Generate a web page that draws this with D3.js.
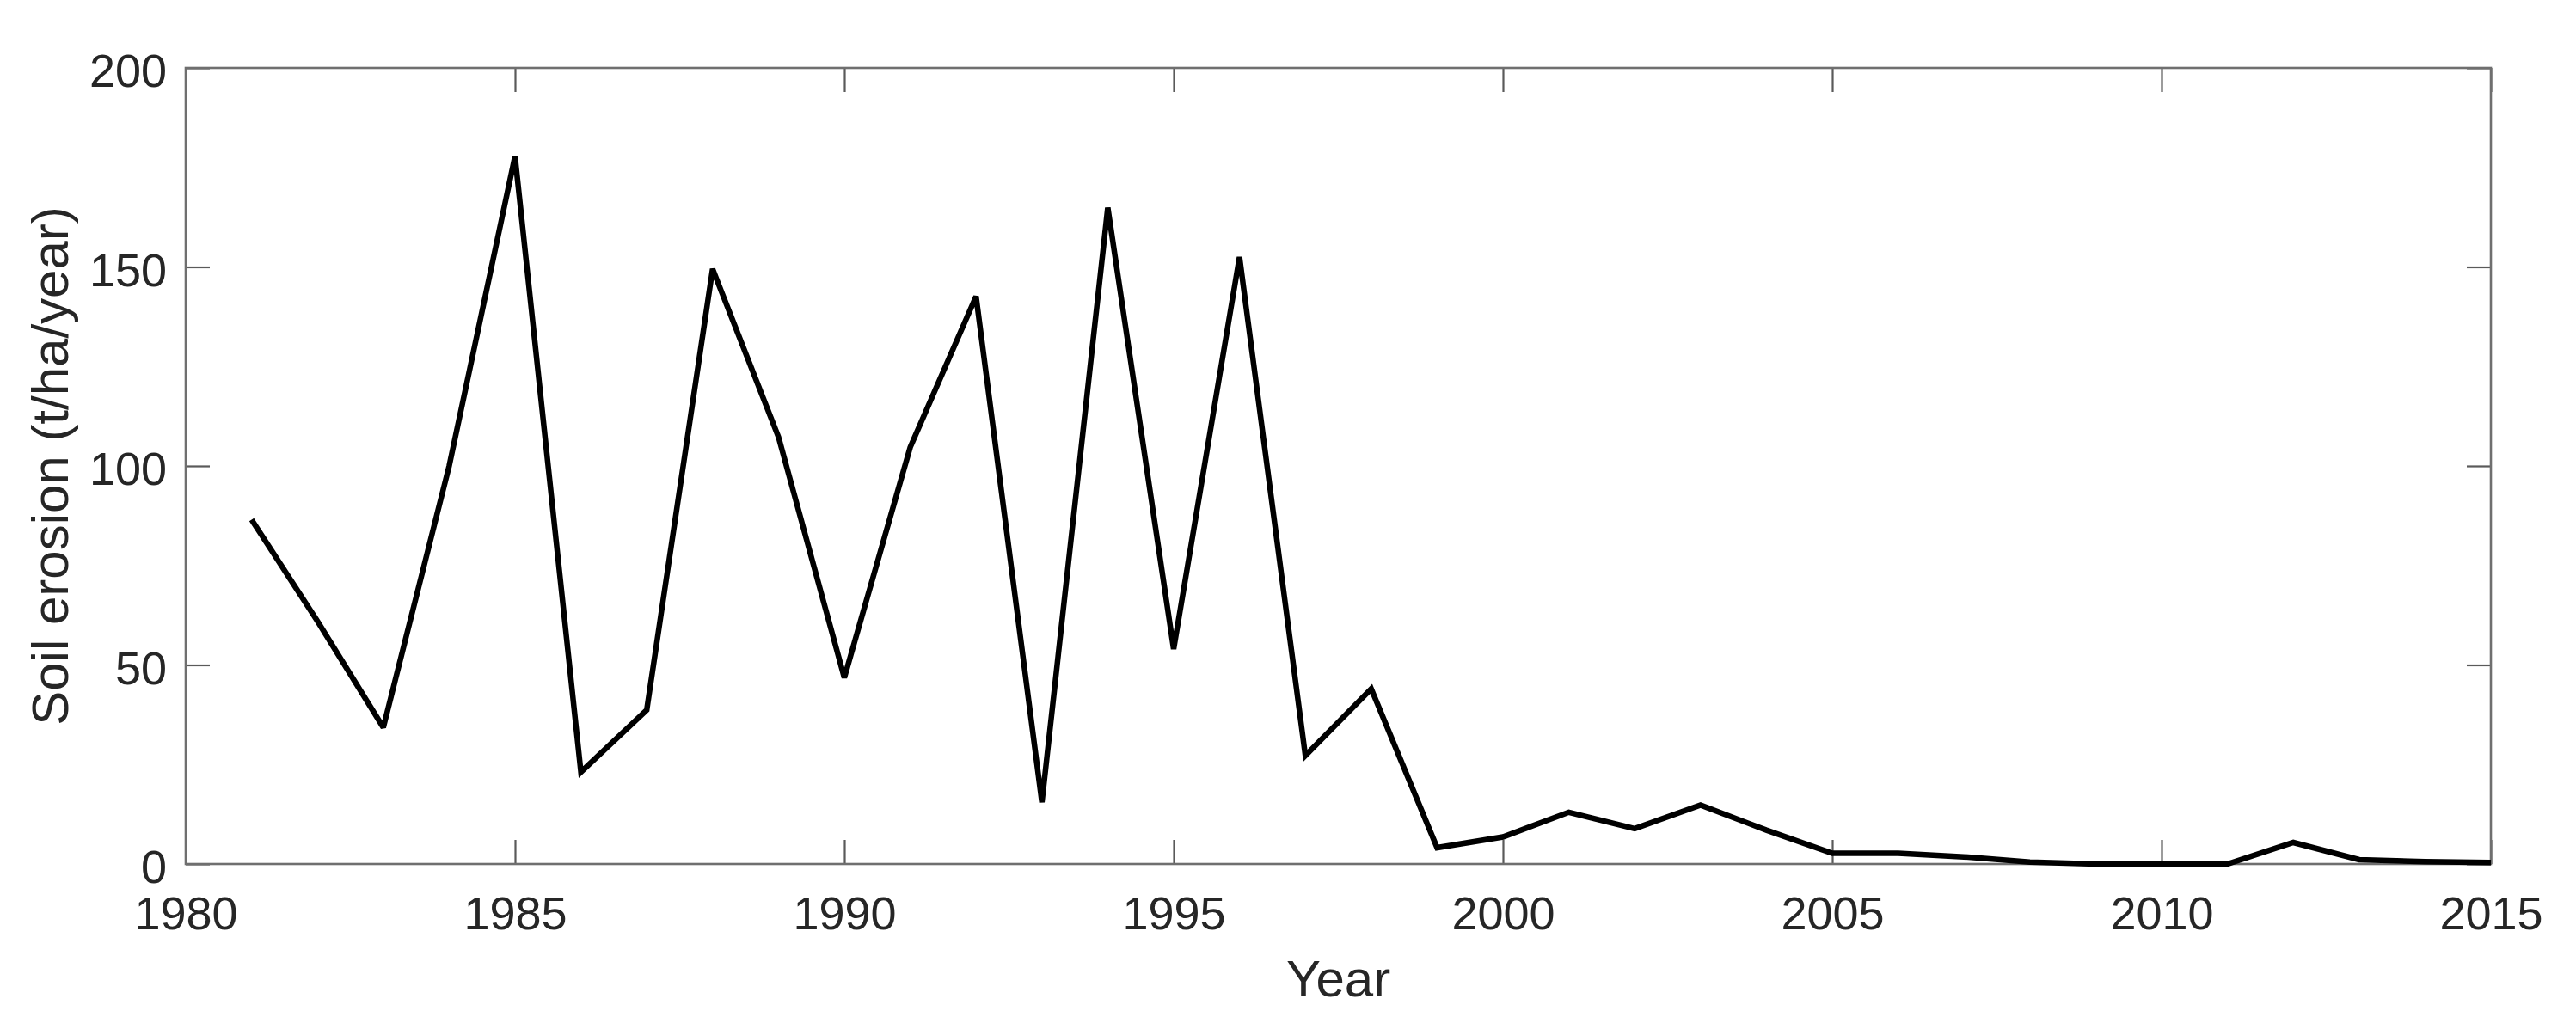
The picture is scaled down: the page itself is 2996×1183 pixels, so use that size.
<!DOCTYPE html>
<html>
<head>
<meta charset="utf-8">
<script src="https://cdn.jsdelivr.net/npm/d3@7"></script>
<style>
  html, body { margin: 0; padding: 0; background: #fff; }
  svg { display: block; }
  text { font-family: "Liberation Sans", Arial, Helvetica, sans-serif; fill: #262626; }
</style>
</head>
<body>
<svg id="chart" width="2996" height="1183"></svg>
<script>
const years = [1981,1982,1983,1984,1985,1986,1987,1988,1989,1990,
               1991,1992,1993,1994,1995,1996,1997,1998,1999,2000,
               2001,2002,2003,2004,2005,2006,2007,2008,2009,2010,
               2011,2012,2013,2014,2015];
const erosion = [86.5,61,34.3,100,177.8,23.1,38.7,149.5,107.3,46.8,
                 104.7,142.6,15.5,164.9,54,152.5,27.2,44,4.1,6.8,
                 13,8.9,14.8,8.5,2.7,2.7,1.8,0.5,0,0,
                 0,5.4,1.1,0.6,0.4];
const xTicks = [1980,1985,1990,1995,2000,2005,2010,2015];
const yTicks = [0,50,100,150,200];
const xDomain = [1980, 2015];
const yDomain = [0, 200];
const xTitle = "Year";
const yTitle = "Soil erosion (t/ha/year)";

const L = 216, R = 2897, T = 79, B = 1005;
const svg = d3.select("#chart");
const x = d3.scaleLinear().domain(xDomain).range([L, R]);
const y = d3.scaleLinear().domain(yDomain).range([B, T]);

const tickLen = 28, fs = 54;
const boxColor = "#6f6f6f", tickColor = "#5a5a5a";

function styleAxis(g) {
  g.select(".domain").remove();
  g.selectAll(".tick line").attr("stroke", tickColor).attr("stroke-width", 2.2);
  g.selectAll(".tick text").attr("fill", "#262626").style("font-size", fs + "px")
    .style("font-family", '"Liberation Sans", Arial, sans-serif');
}

svg.append("g").attr("transform", `translate(0,${B})`)
  .call(d3.axisBottom(x).tickValues(xTicks).tickFormat(d3.format("d"))
        .tickSizeInner(-tickLen).tickSizeOuter(0).tickPadding(38))
  .call(styleAxis);
svg.append("g").attr("transform", `translate(0,${T})`)
  .call(d3.axisTop(x).tickValues(xTicks).tickFormat("")
        .tickSizeInner(-tickLen).tickSizeOuter(0))
  .call(styleAxis);
const gl = svg.append("g").attr("transform", `translate(${L},0)`)
  .call(d3.axisLeft(y).tickValues(yTicks).tickFormat(d3.format("d"))
        .tickSizeInner(-tickLen).tickSizeOuter(0).tickPadding(22))
  .call(styleAxis);
gl.selectAll(".tick text").attr("dy", "0.40em");
svg.append("g").attr("transform", `translate(${R},0)`)
  .call(d3.axisRight(y).tickValues(yTicks).tickFormat("")
        .tickSizeInner(-tickLen).tickSizeOuter(0))
  .call(styleAxis);

// box
svg.append("rect").attr("x", L).attr("y", T).attr("width", R - L).attr("height", B - T)
  .attr("fill", "none").attr("stroke", boxColor).attr("stroke-width", 2.6);

// data line
const line = d3.line().x((d, i) => x(years[i])).y(d => y(d));
svg.append("path").datum(erosion)
  .attr("d", line)
  .attr("fill", "none").attr("stroke", "#000").attr("stroke-width", 6.5)
  .attr("stroke-linejoin", "miter").attr("stroke-miterlimit", 2.5);

// titles
svg.append("text").attr("x", (L + R) / 2).attr("y", 1159)
  .attr("text-anchor", "middle").style("font-size", "60px").text(xTitle);
svg.append("text").attr("transform", `translate(79,${(T + B) / 2}) rotate(-90)`)
  .attr("text-anchor", "middle").style("font-size", "60px").text(yTitle);
</script>
</body>
</html>
